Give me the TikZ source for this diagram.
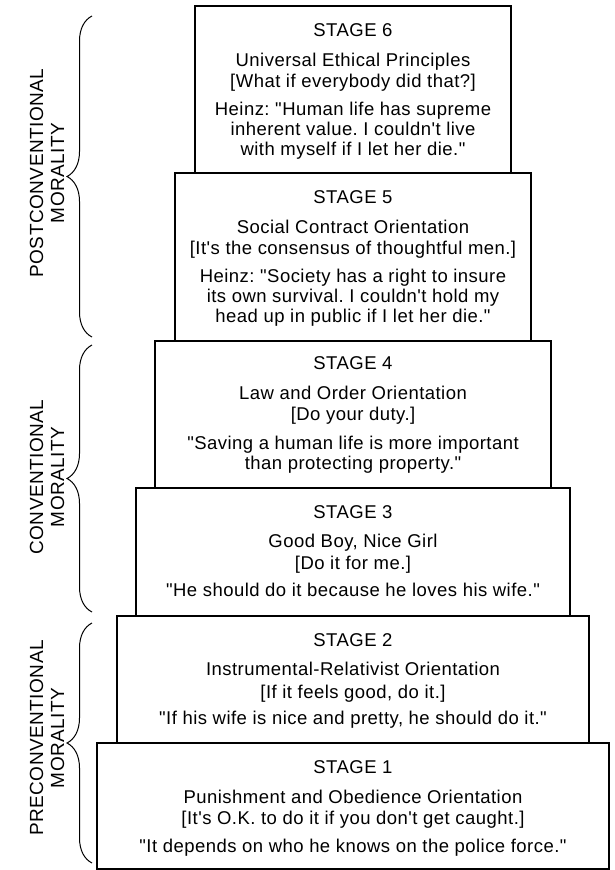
\documentclass[tikz,border=0pt]{standalone}
\usepackage{fontspec}
\setmainfont{Liberation Sans}[Ligatures=TeXOff,LetterSpace=2.5]
\usetikzlibrary{decorations.pathreplacing}
\frenchspacing
\begin{document}
\begin{tikzpicture}[x=1pt,y=-1pt,
  stagebox/.style={draw=black,line width=1.2pt,fill=white,inner sep=0pt},
  txt/.style={anchor=base,inner sep=0pt,font=\fontsize{18.5}{20}\selectfont},
  grouplabel/.style={rotate=90,align=center,inner sep=0pt,font=\fontsize{19}{21}\selectfont},
  bracestyle/.style={draw=black,line width=1pt,decorate,decoration={brace,amplitude=25pt}}]
\useasboundingbox (0,0) rectangle (615,870);
% boxes (bottom first)
\node[stagebox,minimum width=512pt,minimum height=126pt] (b1) at (353,806) {};
\node[stagebox,minimum width=472pt,minimum height=127pt] (b2) at (353,679.5) {};
\node[stagebox,minimum width=434pt,minimum height=128pt] (b3) at (353,552) {};
\node[stagebox,minimum width=396pt,minimum height=147pt] (b4) at (353,414.5) {};
\node[stagebox,minimum width=356pt,minimum height=168pt] (b5) at (353,257) {};
\node[stagebox,minimum width=316pt,minimum height=167pt] (b6) at (353,89.5) {};
% stage 6 (top 6)
\node[txt] (s6a) at (353,36) {STAGE 6};
\node[txt] (s6b) at (353,66) {Universal Ethical Principles};
\node[txt] (s6c) at (353,87) {[What if everybody did that?]};
\node[txt] (s6d) at (353,115) {Heinz: "Human life has supreme};
\node[txt] (s6e) at (353,135) {inherent value. I couldn't live};
\node[txt] (s6f) at (353,155) {with myself if I let her die."};
% stage 5 (top 173)
\node[txt] (s5a) at (353,203) {STAGE 5};
\node[txt] (s5b) at (353,233) {Social Contract Orientation};
\node[txt] (s5c) at (353,254) {[It's the consensus of thoughtful men.]};
\node[txt] (s5d) at (353,282) {Heinz: "Society has a right to insure};
\node[txt] (s5e) at (353,302) {its own survival. I couldn't hold my};
\node[txt] (s5f) at (353,322) {head up in public if I let her die."};
% stage 4 (top 341)
\node[txt] (s4a) at (353,369) {STAGE 4};
\node[txt] (s4b) at (353,399) {Law and Order Orientation};
\node[txt] (s4c) at (353,420) {[Do your duty.]};
\node[txt] (s4d) at (353,449) {"Saving a human life is more important};
\node[txt] (s4e) at (353,469) {than protecting property."};
% stage 3 (top 488)
\node[txt] (s3a) at (353,518) {STAGE 3};
\node[txt] (s3b) at (353,547) {Good Boy, Nice Girl};
\node[txt] (s3c) at (353,569) {[Do it for me.]};
\node[txt] (s3d) at (353,596) {"He should do it because he loves his wife."};
% stage 2 (top 616)
\node[txt] (s2a) at (353,646) {STAGE 2};
\node[txt] (s2b) at (353,675) {Instrumental-Relativist Orientation};
\node[txt] (s2c) at (353,698) {[If it feels good, do it.]};
\node[txt] (s2d) at (353,724) {"If his wife is nice and pretty, he should do it."};
% stage 1 (top 743)
\node[txt] (s1a) at (353,773) {STAGE 1};
\node[txt] (s1b) at (353,803) {Punishment and Obedience Orientation};
\node[txt] (s1c) at (353,824) {[It's O.K. to do it if you don't get caught.]};
\node[txt] (s1d) at (353,852) {"It depends on who he knows on the police force."};
% braces
\coordinate (postTop) at (92,16);
\coordinate (postBot) at (92,337);
\coordinate (convTop) at (92,345);
\coordinate (convBot) at (92,612);
\coordinate (preTop) at (92,623);
\coordinate (preBot) at (92,863);
\draw[bracestyle] (postBot) -- (postTop);
\draw[bracestyle] (convBot) -- (convTop);
\draw[bracestyle] (preBot) -- (preTop);
% group labels
\node[grouplabel] (lpost) at (47,173) {POSTCONVENTIONAL\\MORALITY};
\node[grouplabel] (lconv) at (47,477) {CONVENTIONAL\\MORALITY};
\node[grouplabel] (lpre) at (47,738) {PRECONVENTIONAL\\MORALITY};
\end{tikzpicture}
\end{document}
